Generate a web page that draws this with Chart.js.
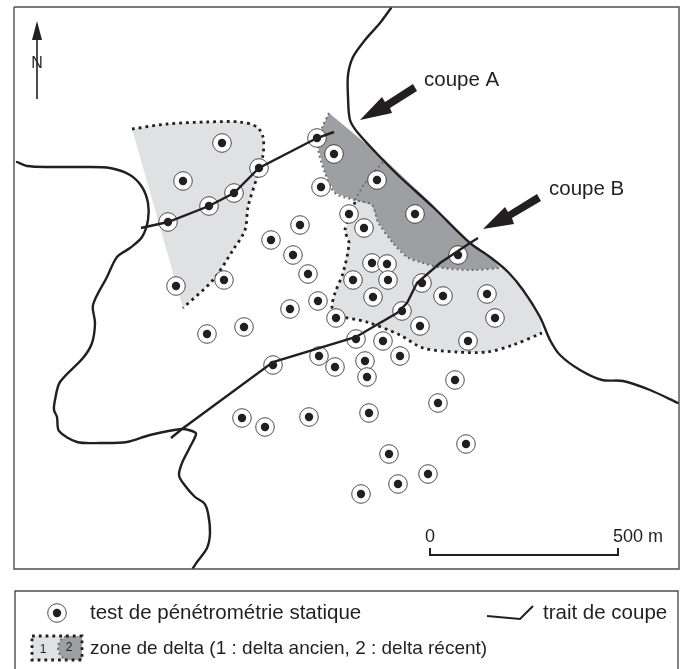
<!DOCTYPE html>
<html><head><meta charset="utf-8">
<style>html,body{margin:0;padding:0;background:#fff}canvas{display:block}</style>
<script src="https://cdn.jsdelivr.net/npm/chart.js@4/dist/chart.umd.min.js"></script>
</head><body><canvas id="c" width="680" height="669"></canvas>
<script>
const P=a=>a.map(([x,y])=>({x,y}));
const tests=[[222,143],[183,181],[168,222],[209,206],[234,193],[259,168],[317,138],[334,154],[321,187],[300,225],[271,240],[293,255],[308,274],[318,301],[290,309],[336,318],[224,280],[176,286],[207,334],[244,327],[273,365],[319,356],[335,367],[242,418],[265,427],[309,417],[377,180],[415,214],[349,214],[364,228],[458,255],[372,263],[387,264],[388,280],[353,280],[373,297],[422,283],[443,296],[487,294],[495,318],[402,311],[420,326],[468,341],[356,339],[383,341],[400,356],[365,361],[367,377],[455,380],[438,403],[369,413],[466,444],[389,454],[428,474],[398,484],[361,494]];
const riverLeft=[[17,162],[27,166],[50,167],[83,167],[110,168],[130,175],[142,187],[148,203],[148,220],[142,237],[130,248],[117,257],[107,277],[93,305],[95,323],[92,343],[83,358],[60,382],[55,400],[54,410],[57,417],[59,431],[77,442],[100,443],[127,442],[150,435],[182,429],[192,431],[196,434],[190,447],[182,463],[179,475],[183,483],[195,497],[204,503],[208,513],[210,533],[207,548],[197,562],[193,568]];
const riverRight=[[391,8],[380,23],[365,40],[353,57],[348,75],[348,97],[350,120],[358,133],[383,160],[400,177],[433,207],[470,243],[490,257],[508,272],[523,290],[540,317],[550,340],[560,355],[580,370],[602,380],[623,381],[650,390],[678,403]];
const sectionA=[[141,228],[168,222],[209,206],[234,193],[259,168],[317,138],[334,132]];
const sectionB=[[171,438],[182,429],[273,362],[356,337],[373,327],[397,313],[407,303],[417,283],[440,263],[470,243],[478,238]];
const oldDeltaWest=[[132,129],[167,124],[207,122],[240,122],[257,127],[263,137],[263,155],[257,177],[248,207],[245,230],[233,250],[213,280],[183,308]];
const oldDeltaEastEdge=[[355,202],[345,230],[349,243],[343,273],[335,293],[332,307],[336,315],[367,322],[400,335],[423,348],[457,352],[487,352],[513,345],[542,333]];
const youngDeltaEdge=[[329,113],[322,128],[318,147],[325,173],[335,193],[355,200],[372,205],[378,222],[393,243],[407,257],[423,263],[443,268],[473,270],[500,268]];
const youngDeltaInner=[[355,200],[365,183],[383,162]];
const oldDeltaEastBack=[[540,317],[523,290],[508,272],[500,268]];
const youngDeltaBack=[[490,257],[470,243],[433,205],[400,174],[383,158],[329,113]];
const northArrow=[[37,21],[32,40],[42,40]];
const northShaft=[[37,40],[37,99]];
const arrowA=[[360,120],[382,97],[385,102],[413,84],[417,91],[390,108],[392,113]];
const arrowB=[[483,229],[505,207],[508,212],[537,194],[541,201],[512,218],[514,224]];
const frameMap=[[14,7],[679,7],[679,569],[14,569],[14,7]];
const frameLegend=[[15,669],[15,591],[678,591],[678,669]];
const scaleBar=[[430,548],[430,555],[618,555],[618,548]];
const legendTest=[[57,613]];
const legendSection=[[487,616],[520,619],[533,606]];
const legendOld=[[32,636],[82,636],[82,660],[32,660],[32,636]];
const legendOldFill=[[32,636],[82,636],[82,660],[32,660]];
const legendYoung=[[66,636],[82,636],[82,660],[66,660],[60,655],[58,648],[60,641]];
const legendYoungEdge=[[66,636],[60,641],[58,648],[60,655],[66,660]];
const labels=[["coupe A",424,80,20.5,"left"],["coupe B",549,189,20.5,"left"],["0",430,537,18,"center"],["500 m",613,537,18,"left"],["N",37,64,16,"center"],["test de pénétrométrie statique",90,613,20.5,"left"],["trait de coupe",543,613,20.5,"left"],["zone de delta (1 : delta ancien, 2 : delta récent)",90,649,19,"left"],["1",43,650,12,"center"],["2",69,648,12,"center"]];
const line=(data,color,width,extra={})=>({type:'scatter',data:P(data),showLine:true,borderColor:color,borderWidth:width,pointRadius:0,tension:0,fill:false,...extra});
const shape=(data,color,tension=0)=>({type:'scatter',data:P(data),showLine:true,borderWidth:0,borderColor:color,backgroundColor:color,pointRadius:0,tension,fill:'shape'});
const LIGHT='#e0e1e3',DARK='#9d9fa2',INK='#231f20',GREY='#6d6e71';
const dotted=(d,c,w,dash,t=.3)=>line(d,c,w,{borderDash:dash,tension:t});
const BLACKDOT=[2.8,4],GREYDOT=[2,3];
const smooth=(d,w)=>line(d,INK,w,{tension:.3,borderCapStyle:'round',borderJoinStyle:'round'});
const datasets=[
 shape(oldDeltaWest,LIGHT,.3),
 shape(oldDeltaEastEdge.concat(oldDeltaEastBack,youngDeltaEdge.slice(5).reverse()),LIGHT),
 shape(youngDeltaEdge.concat(youngDeltaBack),DARK),
 shape(legendOldFill,LIGHT),shape(legendYoung,DARK),
 dotted(oldDeltaWest,INK,2.8,BLACKDOT),dotted(oldDeltaEastEdge,INK,2.8,BLACKDOT),
 dotted(youngDeltaEdge,GREY,2,GREYDOT),dotted(youngDeltaInner,GREY,2,GREYDOT),
 dotted(legendOld,INK,2.8,BLACKDOT,0),dotted(legendYoungEdge,GREY,2,GREYDOT),
 {type:'scatter',data:P(tests.concat(legendTest)),pointRadius:9.3,pointBackgroundColor:'#fff',pointBorderColor:INK,pointBorderWidth:.8,showLine:false},
 smooth(riverLeft,2.4),smooth(riverRight,2.4),
 line(sectionA,INK,2.4),line(sectionB,INK,2.4),
 line(legendSection,INK,2),
 {type:'scatter',data:P(tests.concat(legendTest)),pointRadius:4.2,pointBackgroundColor:INK,pointBorderWidth:0,showLine:false},
 shape(northArrow,INK),line(northShaft,INK,1.6),shape(arrowA,INK),shape(arrowB,INK),
 line(scaleBar,INK,2),
 line(frameMap,'#4d4d4f',1.4),line(frameLegend,'#4d4d4f',1.4)
].reverse();
const textPlugin={id:'text',afterDatasetsDraw(ch){const c=ch.ctx,{x,y}=ch.scales;c.save();c.fillStyle=INK;c.textBaseline='middle';
 for(const [t,px,py,s,al] of labels){c.font=s+'px "Liberation Sans"';c.textAlign=al;c.fillText(t,x.getPixelForValue(px),y.getPixelForValue(py));}c.restore();}};
new Chart(document.getElementById('c'),{type:'scatter',data:{datasets},plugins:[textPlugin],options:{responsive:false,animation:false,layout:{padding:0,autoPadding:false},plugins:{legend:{display:false},tooltip:{enabled:false}},
 scales:{x:{type:'linear',min:0,max:680,display:false},y:{type:'linear',min:0,max:669,reverse:true,display:false}}}});
</script></body></html>
